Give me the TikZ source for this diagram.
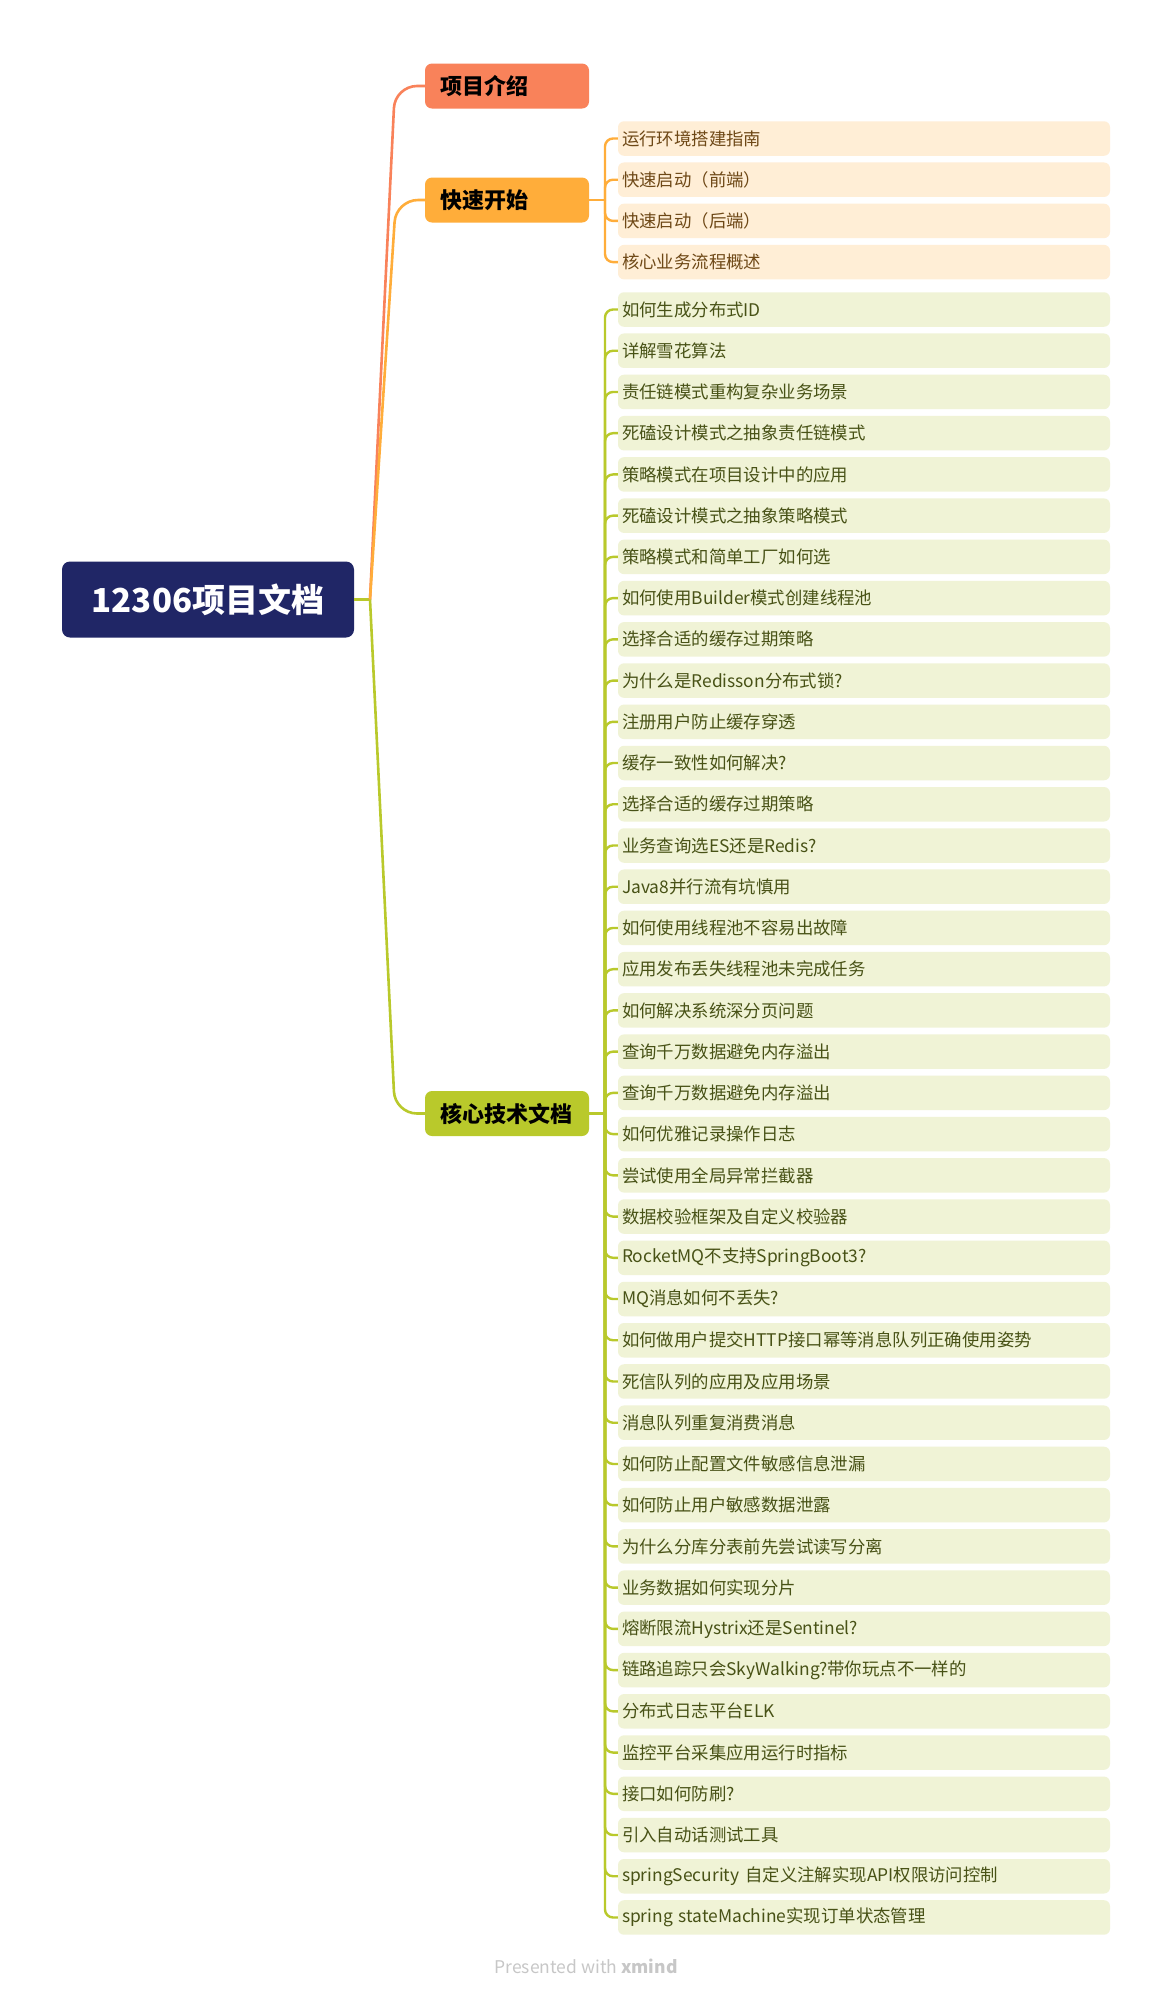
\documentclass[tikz,border=0pt]{standalone}
\usepackage{fontspec}
\setmainfont{Noto Sans CJK SC}
\usepackage{tikz}
\usetikzlibrary{positioning, calc}

\definecolor{rootblue}{RGB}{32,38,102}
\definecolor{introorange}{RGB}{249,130,90}
\definecolor{quickorange}{RGB}{255,173,58}
\definecolor{quickfill}{RGB}{255,238,214}
\definecolor{quicktext}{RGB}{110,72,22}
\definecolor{coregreen}{RGB}{185,201,43}
\definecolor{corefill}{RGB}{240,243,214}
\definecolor{coretext}{RGB}{72,82,22}

\begin{document}
\begin{tikzpicture}[
    x=1pt, y=-1pt,
    root/.style={rectangle, rounded corners=8pt, fill=rootblue, text=white,
                 minimum width=292pt, minimum height=76pt,
                 font=\fontsize{33}{36}\selectfont\bfseries},
    topic/.style={rectangle, rounded corners=7pt, minimum height=45pt,
                  text width=134pt, inner xsep=15pt, inner ysep=0pt, align=left,
                  font=\fontsize{22}{24}\selectfont\bfseries},
    item/.style={rectangle, rounded corners=6pt, minimum height=34.5pt,
                 text width=484pt, inner xsep=4pt, inner ysep=0pt, align=left,
                 font=\fontsize{17.4}{20}\selectfont},
    link/.style={line width=2.6pt},
    sublink/.style={line width=2.4pt, rounded corners=8pt}
]
    \fill[white] (0,0) rectangle (1173,1998);
    \useasboundingbox (0,0) rectangle (1173,1998);

    % === Root ===
    \node[root] (root) at (208, 599.5) {12306项目文档};
    \coordinate (hub) at (370, 599.5);

    % === First level ===
    \node[topic, fill=introorange] (intro) at (507, 86) {项目介绍};
    \node[topic, fill=quickorange] (quick) at (507, 200) {快速开始};
    \node[topic, fill=coregreen] (core) at (507, 1113.5) {核心技术文档};

    \draw[link, draw=coregreen] (root.east) -- (hub);
    \draw[link, draw=introorange, rounded corners=22pt] (hub) -- (395, 86) -- (intro.west);
    \draw[link, draw=quickorange, rounded corners=22pt] (hub) -- (396, 200) -- (quick.west);
    \draw[link, draw=coregreen, rounded corners=22pt] (hub) -- (395, 1113.5) -- (core.west);

    % === 快速开始 ===
    \coordinate (qfork) at (605, 200);
    \draw[sublink, draw=quickorange] (quick.east) -- (qfork);
    \foreach \txt [count=\i] in {运行环境搭建指南, 快速启动（前端）, 快速启动（后端）, 核心业务流程概述} {
        \node[item, fill=quickfill, text=quicktext] (q\i) at (864, {138.5+(\i-1)*41.2}) {\txt};
        \draw[sublink, draw=quickorange] (qfork) |- (q\i.west);
    }

    % === 核心技术文档 ===
    \coordinate (cfork) at (605, 1113.5);
    \draw[sublink, draw=coregreen] (core.east) -- (cfork);
    \foreach \txt [count=\i] in {如何生成分布式ID, 详解雪花算法, 责任链模式重构复杂业务场景,
        死磕设计模式之抽象责任链模式, 策略模式在项目设计中的应用, 死磕设计模式之抽象策略模式,
        策略模式和简单工厂如何选, 如何使用Builder模式创建线程池, 选择合适的缓存过期策略,
        为什么是Redisson分布式锁?, 注册用户防止缓存穿透, 缓存一致性如何解决?,
        选择合适的缓存过期策略, 业务查询选ES还是Redis?, Java8并行流有坑慎用,
        如何使用线程池不容易出故障, 应用发布丢失线程池未完成任务, 如何解决系统深分页问题,
        查询千万数据避免内存溢出, 查询千万数据避免内存溢出, 如何优雅记录操作日志,
        尝试使用全局异常拦截器, 数据校验框架及自定义校验器, RocketMQ不支持SpringBoot3?,
        MQ消息如何不丢失?, 如何做用户提交HTTP接口幂等消息队列正确使用姿势,
        死信队列的应用及应用场景, 消息队列重复消费消息, 如何防止配置文件敏感信息泄漏,
        如何防止用户敏感数据泄露, 为什么分库分表前先尝试读写分离, 业务数据如何实现分片,
        熔断限流Hystrix还是Sentinel?, 链路追踪只会SkyWalking?带你玩点不一样的,
        分布式日志平台ELK, 监控平台采集应用运行时指标, 接口如何防刷?, 引入自动话测试工具,
        springSecurity 自定义注解实现API权限访问控制, spring stateMachine实现订单状态管理} {
        \node[item, fill=corefill, text=coretext] (c\i) at (864, {309.5+(\i-1)*41.23}) {\txt};
        \draw[sublink, draw=coregreen] (cfork) |- (c\i.west);
    }

    % === Footer ===
    \node[font=\fontsize{17.5}{19}\selectfont, text=black!22] (credit) at (586, 1966)
        {Presented with \textbf{xmind}};

\end{tikzpicture}
\end{document}
